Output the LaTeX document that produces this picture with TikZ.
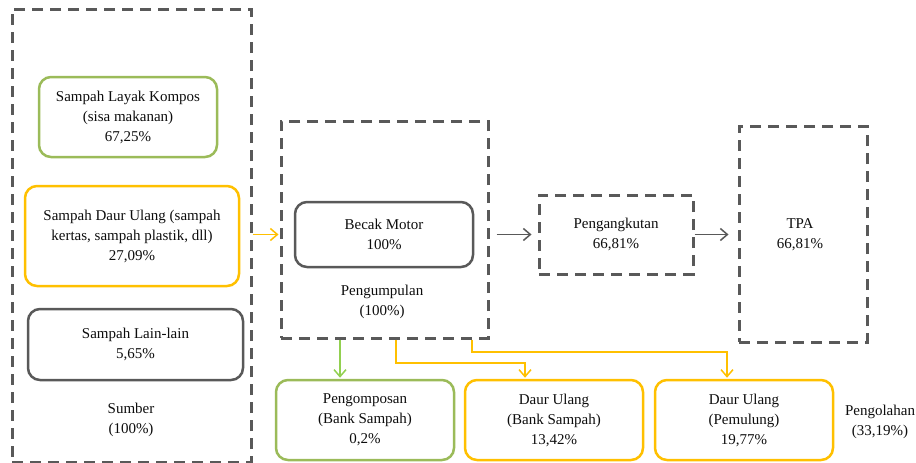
\documentclass[tikz,border=0pt]{standalone}
\usepackage{fontspec}
\setmainfont{Liberation Serif}
\newfontfamily\tnrfont{Liberation Serif}
\usetikzlibrary{arrows.meta}
\definecolor{cgray}{HTML}{595959}
\definecolor{cgreen}{HTML}{9BBB59}
\definecolor{cgreenarr}{HTML}{92D050}
\definecolor{corange}{HTML}{FFC000}
\definecolor{ctext}{HTML}{0D0D0D}
\tikzset{
  txt/.style={font=\tnrfont\fontsize{15}{20}\selectfont, text=ctext, align=center, inner sep=0pt},
  dbox/.style={draw=cgray, line width=3pt, dash pattern=on 11pt off 7pt, inner sep=0pt, txt},
  rbox/.style={line width=2.5pt, rounded corners=12pt, inner sep=0pt, txt},
  gbox/.style={rbox, draw=cgreen},
  obox/.style={rbox, draw=corange},
  kbox/.style={rbox, draw=cgray},
  tip/.style={-{Straight Barb[length=7pt,width=12pt,line width=1.5pt]}, line width=1.5pt},
  garr/.style={tip, draw=cgray},
  oarr/.style={tip, draw=corange},
  grarr/.style={tip, draw=cgreenarr},
}
\begin{document}
\begin{tikzpicture}[x=1pt,y=-1pt]
\useasboundingbox (0,0) rectangle (916,463);
% Sumber
\node[dbox, minimum width=239pt, minimum height=453pt] (sumber) at (131.5,235.5) {};
\node[gbox, minimum width=178pt, minimum height=80pt] (kompos) at (128,117) {Sampah Layak Kompos\\(sisa makanan)\\67,25\%};
\node[obox, minimum width=214pt, minimum height=100pt] (daur) at (132,236) {Sampah Daur Ulang (sampah\\kertas, sampah plastik, dll)\\27,09\%};
\node[kbox, minimum width=215pt, minimum height=71pt] (lain) at (135.5,344.5) {Sampah Lain-lain\\5,65\%};
\node[txt] (sumberlbl) at (131,420) {Sumber\\(100\%)};
% Pengumpulan
\node[dbox, minimum width=207pt, minimum height=217pt] (pgm) at (384.5,229.5) {};
\node[kbox, minimum width=178pt, minimum height=65pt] (becak) at (384,234.5) {Becak Motor\\100\%};
\node[txt] (pgmlbl) at (382,302) {Pengumpulan\\(100\%)};
% Pengangkutan & TPA
\node[dbox, minimum width=154pt, minimum height=79pt] (pgk) at (616,234.5) {Pengangkutan\\66,81\%};
\node[dbox, minimum width=128pt, minimum height=216pt] (tpa) at (803,234) {};
\node[txt] (tpalbl) at (800,235) {TPA\\66,81\%};
% Pengolahan
\node[gbox, minimum width=178pt, minimum height=80pt] (kompos2) at (365,420) {Pengomposan\\(Bank Sampah)\\0,2\%};
\node[obox, minimum width=178pt, minimum height=80pt] (dubs) at (554,420) {Daur Ulang\\(Bank Sampah)\\13,42\%};
\node[obox, minimum width=178pt, minimum height=80pt] (dupem) at (744,420) {Daur Ulang\\(Pemulung)\\19,77\%};
\node[txt] (olahlbl) at (880,422) {Pengolahan\\(33,19\%)};
% connectors
\draw[oarr, shorten >=1pt] (sumber.east |- becak) -- (pgm.west |- becak);
\draw[garr, shorten <=7pt, shorten >=6pt] (pgm.east |- pgk) -- (pgk.west);
\draw[garr, shorten >=9pt] (pgk.east) -- (tpa.west |- pgk);
\draw[grarr, shorten >=1pt] (pgm.south -| 340,0) -- (kompos2.north -| 340,0);
\draw[oarr, shorten >=1pt] (pgm.south -| 396,0) |- (525,363) -- (dubs.north -| 525,0);
\draw[oarr, shorten >=1pt] (pgm.south -| 472,0) |- (727,352) -- (dupem.north -| 727,0);
\end{tikzpicture}
\end{document}
